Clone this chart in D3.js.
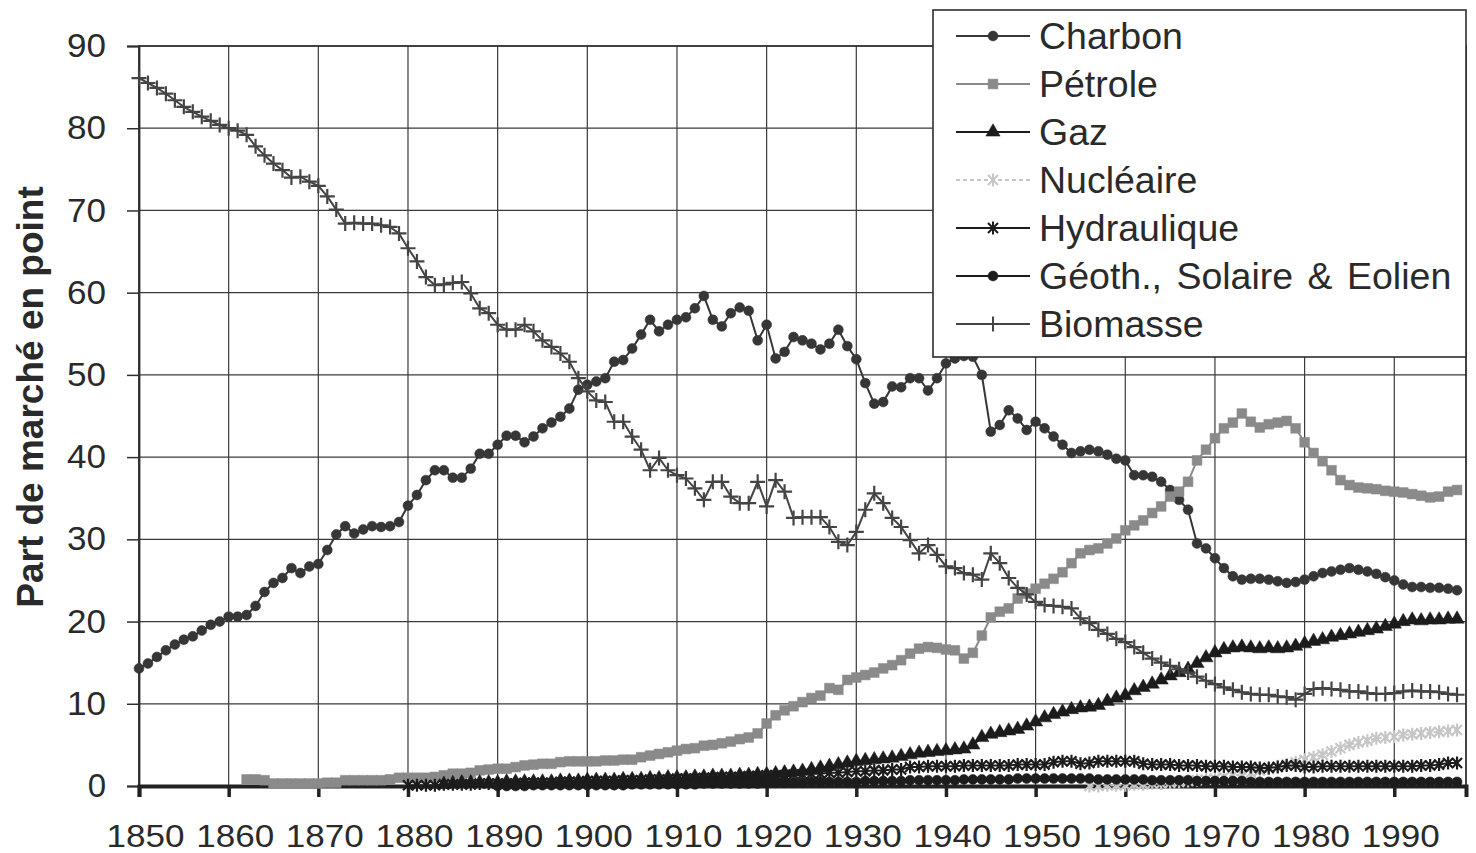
<!DOCTYPE html>
<html lang="fr">
<head>
<meta charset="utf-8">
<title>Part de marché en point</title>
<script src="https://d3js.org/d3.v7.min.js"></script>
<style>
  body { margin: 0; background: #fff; }
  text { font-family: "Liberation Sans", Arial, sans-serif; fill: #2a2a2a; }
  .grid line { stroke: #3a3a3a; stroke-width: 1.2; }
</style>
</head>
<body>
<svg id="chart" width="1476" height="853"></svg>
<script>
// ---- data (one value per year) ----
const xTicks = [1850, 1860, 1870, 1880, 1890, 1900, 1910, 1920, 1930, 1940, 1950, 1960, 1970, 1980, 1990];
const yTicks = [0, 10, 20, 30, 40, 50, 60, 70, 80, 90];

const charbonStart = 1850;
const charbon = [
  14.3, 14.9, 15.7, 16.5, 17.2, 17.8, 18.2, 18.9, 19.6, 20.0,
  20.6, 20.6, 20.8, 21.9, 23.6, 24.7, 25.3, 26.5, 25.9, 26.7,
  27.0, 28.7, 30.6, 31.6, 30.7, 31.2, 31.6, 31.5, 31.6, 32.1,
  34.1, 35.4, 37.2, 38.4, 38.4, 37.5, 37.5, 38.6, 40.4, 40.4,
  41.5, 42.6, 42.6, 41.8, 42.5, 43.5, 44.2, 44.9, 45.9, 48.2,
  48.8, 49.2, 49.6, 51.6, 51.8, 53.2, 54.9, 56.7, 55.3, 56.1,
  56.7, 57.0, 58.1, 59.6, 56.7, 55.9, 57.5, 58.2, 57.8, 54.2,
  56.1, 52.0, 52.8, 54.6, 54.2, 53.8, 53.1, 53.8, 55.5, 53.5,
  51.9, 49.0, 46.5, 46.7, 48.6, 48.5, 49.6, 49.6, 48.1, 49.6,
  51.4, 52.0, 52.3, 52.2, 50.0, 43.1, 43.9, 45.7, 44.7, 43.3,
  44.3, 43.5, 42.5, 41.5, 40.5, 40.7, 40.9, 40.7, 40.3, 39.8,
  39.6, 37.8, 37.8, 37.6, 37.0, 36.0, 34.8, 33.6, 29.5, 28.9,
  27.7, 26.5, 25.5, 25.1, 25.2, 25.2, 25.1, 24.9, 24.7, 24.8,
  25.1, 25.5, 25.9, 26.1, 26.3, 26.5, 26.3, 26.1, 25.8, 25.4,
  25.0, 24.5, 24.2, 24.2, 24.1, 24.1, 24.0, 23.8
];

const petroleStart = 1862;
const petrole = [
  0.8, 0.8, 0.7, 0.3, 0.3, 0.3, 0.3, 0.3,
  0.3, 0.4, 0.4, 0.7, 0.7, 0.7, 0.7, 0.7, 0.8, 1.0,
  1.0, 1.0, 1.0, 1.1, 1.3, 1.5, 1.5, 1.6, 1.9, 2.0,
  2.1, 2.1, 2.3, 2.5, 2.6, 2.7, 2.7, 2.9, 3.0, 3.0,
  3.0, 3.0, 3.1, 3.1, 3.2, 3.2, 3.5, 3.7, 3.9, 4.1,
  4.3, 4.5, 4.6, 4.9, 5.0, 5.2, 5.4, 5.7, 5.9, 6.4,
  7.6, 8.6, 9.2, 9.7, 10.2, 10.7, 11.0, 11.9, 11.7, 12.9,
  13.2, 13.5, 13.8, 14.3, 14.7, 15.3, 16.1, 16.7, 16.9, 16.8,
  16.6, 16.5, 15.5, 16.2, 18.3, 20.5, 21.2, 21.6, 22.8, 23.4,
  24.0, 24.6, 25.2, 26.0, 27.1, 28.3, 28.7, 28.9, 29.5, 30.1,
  31.1, 31.7, 32.3, 33.2, 34.0, 35.2, 35.8, 37.0, 39.6, 40.9,
  42.3, 43.5, 44.2, 45.3, 44.3, 43.6, 44.0, 44.2, 44.4, 43.5,
  41.8, 40.5, 39.5, 38.4, 37.2, 36.6, 36.3, 36.2, 36.1, 35.9,
  35.8, 35.7, 35.5, 35.3, 35.1, 35.2, 35.8, 36.0
];

const gazStart = 1884;
const gaz = [
  0.2, 0.3, 0.4, 0.4, 0.4, 0.4,
  0.4, 0.5, 0.5, 0.5, 0.5, 0.5, 0.5, 0.6, 0.6, 0.6,
  0.7, 0.7, 0.7, 0.7, 0.8, 0.8, 0.8, 0.9, 0.9, 1.0,
  1.0, 1.0, 1.1, 1.1, 1.2, 1.2, 1.2, 1.3, 1.3, 1.4,
  1.4, 1.5, 1.6, 1.7, 1.8, 2.0, 2.2, 2.4, 2.6, 2.8,
  3.0, 3.1, 3.2, 3.3, 3.4, 3.6, 3.8, 4.0, 4.1, 4.2,
  4.3, 4.4, 4.5, 5.0, 5.9, 6.3, 6.5, 6.7, 6.9, 7.3,
  7.8, 8.3, 8.7, 9.0, 9.3, 9.5, 9.6, 9.8, 10.3, 10.7,
  11.0, 11.6, 12.0, 12.4, 12.9, 13.4, 13.8, 14.2, 14.9, 15.6,
  16.2, 16.6, 16.8, 16.9, 16.8, 16.7, 16.8, 16.7, 16.8, 17.0,
  17.3, 17.6, 17.8, 18.1, 18.3, 18.5, 18.7, 18.9, 19.1, 19.4,
  19.7, 20.0, 20.2, 20.1, 20.2, 20.2, 20.3, 20.3
];

const nucleaireStart = 1956;
const nucleaire = [
  0.0, 0.0, 0.1, 0.1,
  0.1, 0.2, 0.2, 0.3, 0.3, 0.4, 0.5, 0.6, 0.7, 0.8,
  0.9, 1.1, 1.3, 1.4, 1.6, 1.9, 2.1, 2.4, 2.6, 2.9,
  3.2, 3.5, 3.8, 4.2, 4.6, 5.0, 5.3, 5.5, 5.8, 5.9,
  6.0, 6.2, 6.3, 6.4, 6.5, 6.6, 6.7, 6.8
];

const hydrauliqueStart = 1880;
const hydraulique = [
  0.1, 0.1, 0.1, 0.1, 0.2, 0.2, 0.2, 0.2, 0.3, 0.3,
  0.3, 0.3, 0.3, 0.4, 0.4, 0.4, 0.4, 0.5, 0.5, 0.5,
  0.6, 0.6, 0.6, 0.6, 0.7, 0.7, 0.7, 0.8, 0.8, 0.8,
  0.9, 0.9, 0.9, 1.0, 1.0, 1.1, 1.1, 1.1, 1.2, 1.2,
  1.3, 1.3, 1.3, 1.4, 1.4, 1.5, 1.5, 1.6, 1.6, 1.7,
  1.8, 1.8, 1.9, 1.9, 2.0, 2.0, 2.3, 2.3, 2.4, 2.4,
  2.4, 2.4, 2.5, 2.5, 2.5, 2.5, 2.5, 2.5, 2.6, 2.6,
  2.6, 2.6, 2.9, 3.0, 3.0, 2.7, 2.8, 3.0, 3.0, 3.0,
  3.0, 3.0, 2.7, 2.6, 2.6, 2.6, 2.5, 2.5, 2.5, 2.4,
  2.4, 2.4, 2.3, 2.3, 2.3, 2.2, 2.2, 2.3, 2.5, 2.5,
  2.3, 2.3, 2.4, 2.4, 2.4, 2.4, 2.4, 2.4, 2.4, 2.4,
  2.4, 2.4, 2.4, 2.5, 2.5, 2.6, 2.8, 2.8
];

const geothStart = 1890;
const geoth = [
  0.0, 0.0, 0.0, 0.0, 0.1, 0.1, 0.1, 0.1, 0.1, 0.1,
  0.1, 0.1, 0.1, 0.1, 0.1, 0.2, 0.2, 0.2, 0.2, 0.2,
  0.2, 0.2, 0.2, 0.3, 0.3, 0.3, 0.3, 0.3, 0.3, 0.3,
  0.4, 0.4, 0.4, 0.4, 0.4, 0.5, 0.5, 0.5, 0.5, 0.5,
  0.5, 0.6, 0.6, 0.6, 0.6, 0.6, 0.7, 0.7, 0.7, 0.7,
  0.7, 0.7, 0.8, 0.8, 0.8, 0.8, 0.8, 0.8, 0.9, 0.9,
  0.9, 0.9, 0.9, 0.9, 0.9, 0.9, 0.9, 0.8, 0.8, 0.8,
  0.8, 0.8, 0.8, 0.7, 0.7, 0.7, 0.7, 0.7, 0.6, 0.6,
  0.6, 0.6, 0.6, 0.6, 0.5, 0.5, 0.5, 0.5, 0.5, 0.5,
  0.5, 0.5, 0.5, 0.5, 0.5, 0.5, 0.5, 0.5, 0.5, 0.5,
  0.5, 0.5, 0.5, 0.5, 0.5, 0.5, 0.5, 0.5
];

const biomasseStart = 1850;
const biomasse = [
  86.1, 85.5, 84.9, 84.2, 83.4, 82.6, 82.0, 81.4, 80.9, 80.4,
  80.0, 79.7, 79.2, 77.8, 76.7, 75.7, 74.9, 74.0, 74.1, 73.5,
  73.0, 71.7, 70.1, 68.4, 68.5, 68.4, 68.4, 68.2, 68.0, 67.2,
  65.4, 63.8, 61.9, 60.9, 61.0, 61.2, 61.3, 59.9, 58.1, 57.5,
  56.1, 55.5, 55.5, 56.1, 55.3, 54.2, 53.4, 52.6, 51.6, 49.6,
  48.0, 46.9, 46.7, 44.3, 44.3, 42.5, 40.9, 38.4, 39.9, 38.4,
  37.8, 37.4, 36.2, 34.8, 37.0, 37.0, 35.2, 34.4, 34.4, 37.0,
  34.0, 37.2, 35.8, 32.6, 32.7, 32.7, 32.7, 31.5, 29.7, 29.3,
  30.9, 33.6, 35.6, 34.4, 32.6, 31.5, 29.9, 28.3, 29.3, 28.1,
  26.7, 26.5, 25.9, 25.7, 25.1, 28.3, 27.1, 25.3, 24.1, 23.3,
  22.4, 22.0, 21.9, 21.8, 21.6, 20.4, 19.8, 19.0, 18.5, 17.9,
  17.5, 16.9, 16.2, 15.5, 15.0, 14.6, 14.2, 13.8, 13.3, 12.8,
  12.4, 12.0, 11.7, 11.4, 11.2, 11.1, 11.1, 10.9, 10.8, 10.5,
  11.2, 11.8, 11.9, 11.8, 11.7, 11.5, 11.5, 11.3, 11.2, 11.2,
  11.3, 11.5, 11.6, 11.5, 11.5, 11.4, 11.2, 11.1
];

// ---- series table built from the arrays ----
const series = [
  {name: "Charbon", start: charbonStart, values: charbon, color: "#363636", marker: "circle"},
  {name: "Pétrole", start: petroleStart, values: petrole, color: "#8a8a8a", marker: "square"},
  {name: "Gaz", start: gazStart, values: gaz, color: "#1c1c1c", marker: "triangle"},
  {name: "Nucléaire", start: nucleaireStart, values: nucleaire, color: "#c6c6c6", marker: "star", dash: "4,3"},
  {name: "Hydraulique", start: hydrauliqueStart, values: hydraulique, color: "#1c1c1c", marker: "star"},
  {name: "Géoth., Solaire & Eolien", start: geothStart, values: geoth, color: "#1c1c1c", marker: "circle"},
  {name: "Biomasse", start: biomasseStart, values: biomasse, color: "#444", marker: "plus"}
];

const svg = d3.select("#chart");
const plotLeft = 139, plotRight = 1466, plotTop = 46, plotBottom = 786;

const x = d3.scaleLinear().domain([1850, 1998]).range([plotLeft, plotRight]);
const y = d3.scaleLinear().domain([0, 90]).range([plotBottom, plotTop]);

// grid
svg.append("g").attr("class", "grid")
  .selectAll("line").data(xTicks.slice(1)).join("line")
  .attr("x1", d => x(d)).attr("x2", d => x(d))
  .attr("y1", plotTop).attr("y2", plotBottom);
svg.append("g").attr("class", "grid")
  .selectAll("line").data(yTicks.slice(1, -1)).join("line")
  .attr("x1", plotLeft).attr("x2", plotRight)
  .attr("y1", d => y(d)).attr("y2", d => y(d));

svg.append("rect")
  .attr("x", plotLeft).attr("y", plotTop)
  .attr("width", plotRight - plotLeft).attr("height", plotBottom - plotTop)
  .attr("fill", "none").attr("stroke", "#2e2e2e").attr("stroke-width", 1.8);

// axes
const yAxis = svg.append("g")
  .attr("transform", `translate(${plotLeft},0)`)
  .call(d3.axisLeft(y).tickValues(yTicks).tickSize(12).tickPadding(21));
yAxis.select(".domain").attr("stroke", "#2e2e2e").attr("stroke-width", 1.8);
yAxis.selectAll(".tick line").attr("stroke", "#2e2e2e").attr("stroke-width", 1.5);
yAxis.selectAll(".tick text").attr("font-size", 33).attr("fill", "#2a2a2a")
  .attr("font-family", "Liberation Sans, Arial, sans-serif")
  .attr("textLength", 39).attr("lengthAdjust", "spacingAndGlyphs");
yAxis.selectAll(".tick text").filter(d => d === 0).attr("textLength", null);

const xAxis = svg.append("g")
  .attr("transform", `translate(0,${plotBottom})`)
  .call(d3.axisBottom(x).tickValues(xTicks).tickFormat(d3.format("d")).tickSize(11).tickPadding(28));
xAxis.select(".domain").attr("stroke", "#222").attr("stroke-width", 4);
xAxis.selectAll(".tick line").attr("stroke", "#222").attr("stroke-width", 3.5);
xAxis.selectAll(".tick text").attr("font-size", 31).attr("dx", 6).attr("fill", "#2a2a2a")
  .attr("font-family", "Liberation Sans, Arial, sans-serif")
  .attr("textLength", 78).attr("lengthAdjust", "spacingAndGlyphs");

svg.append("text")
  .attr("transform", `translate(43,${(plotTop + plotBottom) / 2 - 19}) rotate(-90)`)
  .attr("text-anchor", "middle")
  .attr("font-size", 37).attr("font-weight", "bold")
  .text("Part de marché en point");

// markers
function markerPath(type) {
  if (type === "circle") return d3.symbol(d3.symbolCircle, 78)();
  if (type === "square") return d3.symbol(d3.symbolSquare, 96)();
  if (type === "triangle") return d3.symbol(d3.symbolTriangle, 88)();
  if (type === "plus") return "M-7.5,0H7.5M0,-7.5V7.5";
  return "M-5,-5L5,5M-5,5L5,-5M0,-6.5V6.5"; // star
}
function isStroked(type) { return type === "plus" || type === "star"; }

const line = d3.line().x(d => x(d.year)).y(d => y(d.value));

series.forEach(s => {
  const pts = s.values.map((v, i) => ({year: s.start + i, value: v}));
  const g = svg.append("g");
  g.append("path").datum(pts)
    .attr("d", line)
    .attr("fill", "none")
    .attr("stroke", s.color)
    .attr("stroke-width", 2)
    .attr("stroke-dasharray", s.dash || null);
  g.selectAll("path.m").data(pts).join("path")
    .attr("class", "m")
    .attr("transform", d => `translate(${x(d.year)},${y(d.value)})`)
    .attr("d", markerPath(s.marker))
    .attr("fill", isStroked(s.marker) ? "none" : s.color)
    .attr("stroke", s.color)
    .attr("stroke-width", isStroked(s.marker) ? 2.2 : 0.5);
});

// legend
const lg = svg.append("g");
lg.append("rect")
  .attr("x", 933).attr("y", 10).attr("width", 533).attr("height", 347)
  .attr("fill", "#fff").attr("stroke", "#2e2e2e").attr("stroke-width", 1.6);

const rows = lg.selectAll("g.row").data(series).join("g")
  .attr("class", "row")
  .attr("transform", (d, i) => `translate(0,${36 + i * 48})`);
rows.append("line")
  .attr("x1", 956).attr("x2", 1030).attr("y1", 0).attr("y2", 0)
  .attr("stroke", d => d.color).attr("stroke-width", 2)
  .attr("stroke-dasharray", d => d.dash || null);
rows.append("path")
  .attr("transform", "translate(993,0)")
  .attr("d", d => markerPath(d.marker))
  .attr("fill", d => isStroked(d.marker) ? "none" : d.color)
  .attr("stroke", d => d.color)
  .attr("stroke-width", d => isStroked(d.marker) ? 2 : 0.5);
rows.append("text")
  .attr("x", 1039).attr("y", 13)
  .attr("font-size", 37.5)
  .attr("word-spacing", d => d.name.includes(" ") ? 4 : null)
  .text(d => d.name);
</script>
</body>
</html>
